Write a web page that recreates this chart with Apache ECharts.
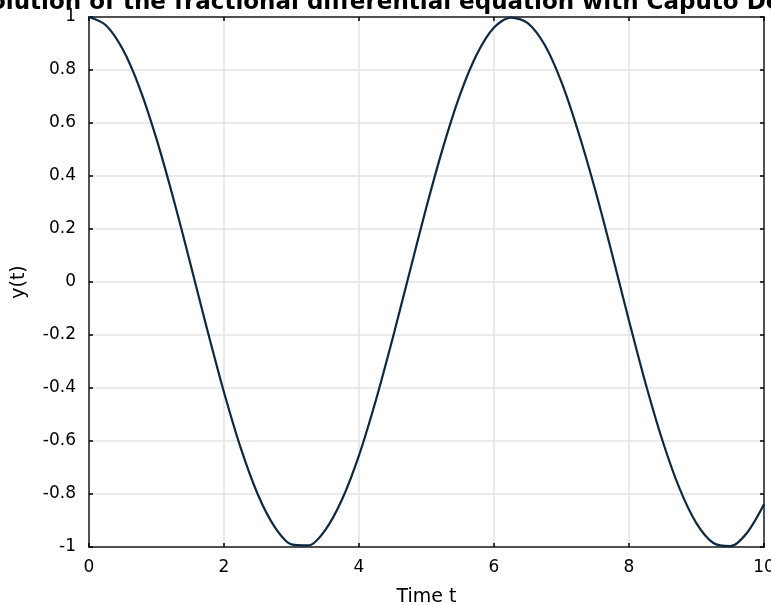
<!DOCTYPE html>
<html>
<head>
<meta charset="utf-8">
<script src="https://cdn.jsdelivr.net/npm/echarts@6/dist/echarts.min.js"></script>
<style>
  html, body { margin: 0; padding: 0; background: #fff; }
  #chart { width: 771px; height: 605px; }
</style>
</head>
<body>
<div id="chart"></div>
<script>
// Solution samples y(t) on t = 0 .. 10, step 0.25
const timeValues = [
  0, 0.25, 0.5, 0.75, 1, 1.25, 1.5, 1.75, 2, 2.25, 2.5, 2.75, 3, 3.25, 3.5, 3.75,
  4, 4.25, 4.5, 4.75, 5, 5.25, 5.5, 5.75, 6, 6.25, 6.5, 6.75, 7, 7.25, 7.5, 7.75,
  8, 8.25, 8.5, 8.75, 9, 9.25, 9.5, 9.75, 10
];
const yValues = [
  1.000, 0.969, 0.878, 0.732, 0.540, 0.315, 0.071, -0.178, -0.416, -0.628, -0.801,
  -0.924, -0.990, -0.994, -0.936, -0.820, -0.654, -0.446, -0.211, 0.037, 0.284,
  0.512, 0.709, 0.861, 0.960, 0.998, 0.977, 0.895, 0.754, 0.565, 0.347, 0.105,
  -0.146, -0.387, -0.602, -0.780, -0.911, -0.985, -0.997, -0.946, -0.839
];
const xTicks = [0, 2, 4, 6, 8, 10];
const yTicks = [-1, -0.8, -0.6, -0.4, -0.2, 0, 0.2, 0.4, 0.6, 0.8, 1];

const titleText = 'Solution of the fractional differential equation with Caputo Derivative';
const FONT = 'DejaVu Sans';

const points = timeValues.map((t, i) => [t, yValues[i]]);

const chart = echarts.init(document.getElementById('chart'), null, { renderer: 'canvas' });

const frameColor = '#2b2b2b';
const gridColor = '#e3e3e3';

function fmtY(v) {
  const hit = yTicks.find(t => Math.abs(t - v) < 1e-9);
  if (hit === undefined) return '';
  if (Math.abs(hit) < 1e-9) return '0';
  if (Math.abs(Math.abs(hit) - 1) < 1e-9) return hit < 0 ? '-1' : '1';
  return hit.toFixed(1);
}

const tickStyle = { show: true, inside: true, length: 4, lineStyle: { color: '#000', width: 1.5 } };
const lineStyleFrame = { show: true, onZero: false, lineStyle: { color: frameColor, width: 1.5 } };

chart.setOption({
  animation: false,
  backgroundColor: '#ffffff',
  title: {
    text: titleText,
    left: 422,
    textAlign: 'center',
    top: -13,
    textStyle: { fontFamily: FONT, fontSize: 23, fontWeight: 'bold', color: '#000' }
  },
  grid: {
    left: 89, right: 7, top: 17, bottom: 58,
    containLabel: false,
    outerBoundsMode: 'none',
    show: true, borderColor: frameColor, borderWidth: 1.5, backgroundColor: '#fff'
  },
  xAxis: [
    {
      type: 'value', min: 0, max: 10, interval: 2, position: 'bottom',
      name: 'Time t', nameLocation: 'middle', nameGap: 41,
      nameTextStyle: { fontFamily: FONT, fontSize: 19, color: '#000' },
      axisLine: lineStyleFrame,
      axisTick: tickStyle,
      axisLabel: {
        fontFamily: FONT, fontSize: 17, color: '#000', margin: 12,
        formatter: v => (xTicks.includes(v) ? String(v) : '')
      },
      splitLine: { show: true, lineStyle: { color: gridColor, width: 1.5 } }
    },
    {
      type: 'value', min: 0, max: 10, interval: 2, position: 'top',
      axisLine: lineStyleFrame,
      axisTick: tickStyle,
      axisLabel: { show: false },
      splitLine: { show: false }
    }
  ],
  yAxis: [
    {
      type: 'value', min: -1, max: 1, interval: 0.2, position: 'left',
      name: 'y(t)', nameLocation: 'middle', nameGap: 60, nameRotate: 90,
      nameTextStyle: { fontFamily: FONT, fontSize: 19, color: '#000' },
      axisLine: lineStyleFrame,
      axisTick: tickStyle,
      axisLabel: { fontFamily: FONT, fontSize: 17, color: '#000', margin: 13, formatter: fmtY },
      splitLine: { show: true, lineStyle: { color: gridColor, width: 1.5 } }
    },
    {
      type: 'value', min: -1, max: 1, interval: 0.2, position: 'right',
      axisLine: lineStyleFrame,
      axisTick: tickStyle,
      axisLabel: { show: false },
      splitLine: { show: false }
    }
  ],
  series: [
    {
      type: 'line',
      data: points,
      xAxisIndex: 0,
      yAxisIndex: 0,
      smooth: 0.3,
      showSymbol: false,
      clip: true,
      lineStyle: { color: '#0b2942', width: 2.2 }
    }
  ]
});
</script>
</body>
</html>
